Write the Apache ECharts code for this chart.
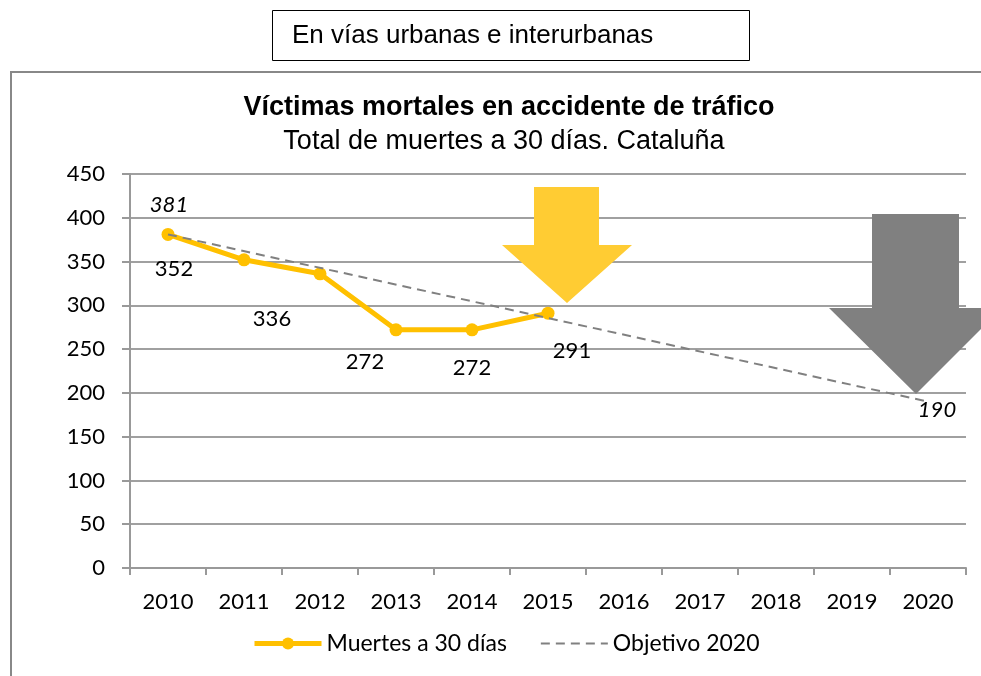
<!DOCTYPE html>
<html>
<head>
<meta charset="utf-8">
<script src="https://cdn.jsdelivr.net/npm/echarts@6/dist/echarts.min.js"></script>
<style>
  html, body { margin: 0; padding: 0; background: #fff; }
  #chart { width: 981px; height: 676px; }
</style>
</head>
<body>
<div id="chart"></div>
<script>
const years = ['2010', '2011', '2012', '2013', '2014', '2015', '2016', '2017', '2018', '2019', '2020']
const muertes = [381, 352, 336, 272, 272, 291]
const objetivo = [381, null, null, null, null, null, null, null, null, null, 190]

// where Excel put each data label, relative to its point
const muertesLabelOffsets = [null, [-70, 9], [-48, 45], [-31, 32], [0, 38], [24, 38]]
const objetivoLabelOffsets = { 0: [1, -30], 10: [9, 8] }

const axisFont = 'Lato, "Open Sans", sans-serif'
const chart = echarts.init(document.getElementById('chart'))

const muertesData = muertes.map((v, i) => {
  const off = muertesLabelOffsets[i]
  if (!off) return { value: v, label: { show: false } }
  return { value: v, label: { show: true, position: 'inside', offset: off } }
})

const objetivoData = objetivo.map((v, i) => {
  const off = objetivoLabelOffsets[i]
  if (v === null) return null
  return {
    value: v,
    label: { show: !!off, position: 'inside', offset: off || [0, 0], fontStyle: 'italic' }
  }
})

const option = {
  animation: false,
  title: [
    {
      text: 'Víctimas mortales en accidente de tráfico',
      left: 504,
      top: 89,
      textAlign: 'center',
      textStyle: { fontFamily: '"Liberation Sans", Arial', fontSize: 27, fontWeight: 'bold', color: '#000' }
    },
    {
      text: 'Total de muertes a 30 días. Cataluña',
      left: 499,
      top: 123,
      textAlign: 'center',
      textStyle: { fontFamily: '"Liberation Sans", Arial', fontSize: 27, fontWeight: 'normal', color: '#000' }
    }
  ],
  legend: {
    left: 247,
    top: 627,
    itemWidth: 67,
    itemHeight: 15,
    itemGap: 33,
    textStyle: { fontFamily: axisFont, fontSize: 23, color: '#000' },
    data: [
      { name: 'Muertes a 30 días', lineStyle: { width: 5 } },
      { name: 'Objetivo 2020', lineStyle: { width: 2 }, itemStyle: { color: 'rgba(0,0,0,0)', opacity: 0 } }
    ]
  },
  grid: {
    left: 130,
    right: 15,
    top: 174,
    bottom: 108
  },
  xAxis: {
    type: 'category',
    data: years,
    boundaryGap: true,
    axisLine: { lineStyle: { color: '#999', width: 2 } },
    axisTick: { show: true, length: 7, lineStyle: { color: '#999', width: 2 } },
    axisLabel: { margin: 23, fontFamily: axisFont, fontSize: 22, color: '#000' }
  },
  yAxis: {
    type: 'value',
    min: 0,
    max: 450,
    interval: 50,
    axisLine: { show: true, lineStyle: { color: '#999', width: 2 } },
    axisTick: { show: true, length: 8, lineStyle: { color: '#999', width: 2 } },
    axisLabel: { margin: 25, fontFamily: axisFont, fontSize: 22, color: '#000' },
    splitLine: { lineStyle: { color: '#a0a0a0', width: 2 } }
  },
  series: [
    {
      name: 'Objetivo 2020',
      type: 'line',
      data: objetivoData,
      connectNulls: true,
      symbol: 'circle',
      symbolSize: 0,
      showSymbol: true,
      lineStyle: { color: '#808080', width: 2, type: [9, 6] },
      itemStyle: { color: '#808080' },
      label: { fontFamily: axisFont, fontSize: 22, color: '#000' },
      emphasis: { disabled: true },
      z: 3
    },
    {
      name: 'Muertes a 30 días',
      type: 'line',
      data: muertesData,
      symbol: 'circle',
      symbolSize: 13,
      lineStyle: { color: '#FFC000', width: 5 },
      itemStyle: { color: '#FFC000' },
      label: { fontFamily: axisFont, fontSize: 22, color: '#000' },
      emphasis: { disabled: true },
      z: 2
    }
  ],
  graphic: [
    // top note box
    {
      type: 'rect',
      shape: { x: 272.5, y: 10.5, width: 477, height: 50 },
      style: { fill: '#fff', stroke: '#000', lineWidth: 1 }
    },
    {
      type: 'text',
      x: 292,
      y: 36,
      style: {
        text: 'En vías urbanas e interurbanas',
        font: '26px "Liberation Sans", Arial',
        fill: '#000',
        textVerticalAlign: 'middle'
      }
    },
    // chart frame
    {
      type: 'rect',
      shape: { x: 11, y: 72, width: 1000, height: 700 },
      style: { fill: null, stroke: '#888', lineWidth: 2 },
      z: -1
    },
    // yellow arrow
    {
      type: 'polygon',
      shape: { points: [[534, 187], [599, 187], [599, 245], [632, 245], [567, 303], [502, 245], [534, 245]] },
      style: { fill: '#FFCC33' },
      z: 10
    },
    // gray arrow
    {
      type: 'polygon',
      shape: { points: [[872, 214], [959, 214], [959, 308], [1002, 308], [916, 394], [829, 308], [872, 308]] },
      style: { fill: '#808080' },
      z: 10
    }
  ]
}

chart.setOption(option)
</script>
</body>
</html>
